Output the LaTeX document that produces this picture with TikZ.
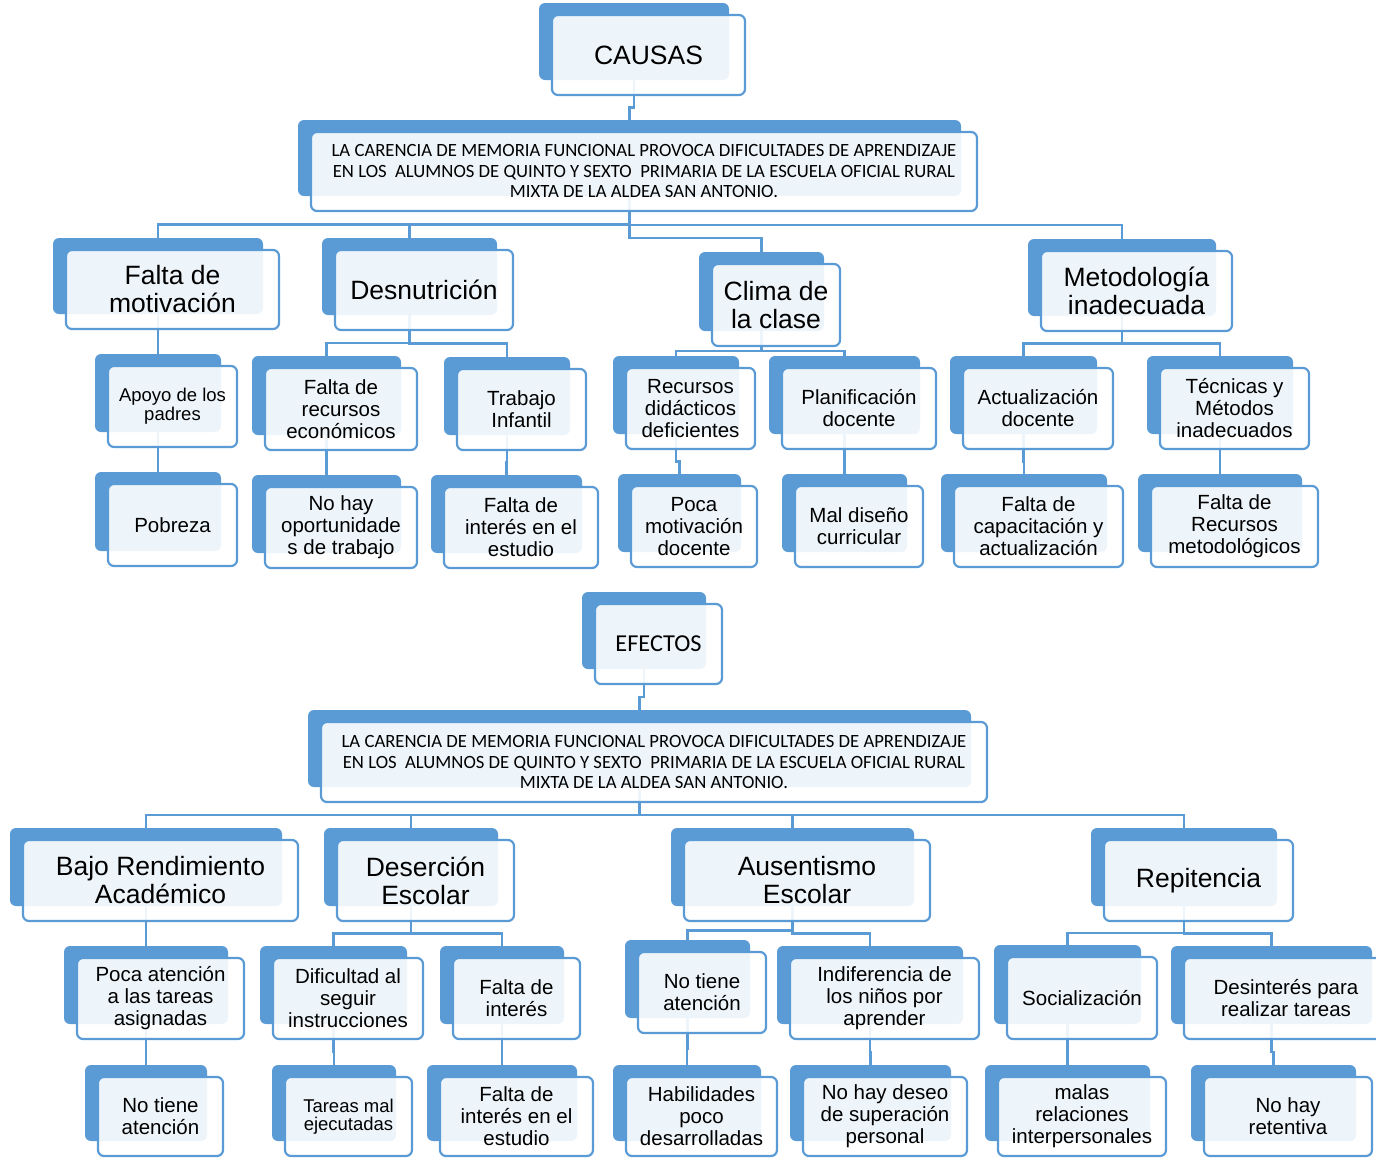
\documentclass[tikz,border=0pt]{standalone}
\usepackage{fontspec}
\setmainfont{Liberation Sans}
\newfontfamily\calib{Carlito}
\usetikzlibrary{calc}
\definecolor{sblue}{HTML}{5B9BD5}
\pgfdeclarelayer{bg}
\pgfsetlayers{bg,main}
\tikzset{
  backbox/.style={fill=sblue, draw=none, rounded corners=6pt, inner sep=0pt, outer sep=0pt},
  frontbox/.style={fill=white, fill opacity=0.9, text opacity=1, draw=sblue, line width=2.2pt,
    rounded corners=6pt, inner sep=0pt, outer sep=0pt, align=center, text=black},
  conn/.style={draw=sblue, line width=2.2pt},
  lone/.style={font=\fontsize{26.5}{28}\selectfont},
  ltwo/.style={font=\fontsize{20.5}{22}\selectfont},
  lapo/.style={font=\fontsize{18.5}{19}\selectfont},
  lsmall/.style={font=\fontsize{18.5}{18.5}\selectfont},
  lcen/.style={font=\calib\fontsize{18.7}{20.5}\selectfont},
  lefe/.style={font=\calib\fontsize{24.3}{26}\selectfont},
}
% #1 style, #2 name, #3 x1, #4 y1, #5 x2, #6 y2 (front rectangle), #7 text
\newcommand\bx[7][ltwo]{%
  \node[backbox, minimum width={#5-#3-3}, minimum height={#6-#4-3}] (#2b) at ({(#3+#5)/2-14.5},{(#4+#6)/2-13.5}) {};
  \node[frontbox, #1, minimum width={#5-#3}, minimum height={#6-#4}] (#2) at ({(#3+#5)/2},{(#4+#6)/2}) {#7};
}
\newcommand\cn[2]{%
  \draw[conn] let \p1=(#1b.south), \p2=(#1.south), \p3=(#2b.north) in
    (\p1) -- (\x1,{(\y2+\y3)/2}) -| (\p3);
}
\begin{document}
\begin{tikzpicture}[x=1pt,y=-1pt]
\useasboundingbox (0,0) rectangle (1376,1157);
\clip (0,0) rectangle (1376,1157);
% ---------------- CAUSAS ----------------
\bx[lone]{causas}{552}{15}{745}{95}{CAUSAS}
\bx[lcen]{top}{311}{132}{977}{211}{LA CARENCIA DE MEMORIA FUNCIONAL PROVOCA DIFICULTADES DE APRENDIZAJE\\EN LOS\ \ ALUMNOS DE QUINTO Y SEXTO\ \ PRIMARIA DE LA ESCUELA OFICIAL RURAL\\MIXTA DE LA ALDEA SAN ANTONIO.}
\bx[lone]{mot}{66}{250}{279}{329}{Falta de\\motivación}
\bx[lone]{des}{335}{250}{513}{330}{Desnutrición}
\bx[lone]{cli}{712}{264}{840}{346}{Clima de\\la clase}
\bx[lone]{met}{1041}{251}{1232}{331}{Metodología\\inadecuada}
\bx[lapo]{apo}{108}{366}{237}{447}{Apoyo de los\\padres}
\bx{pob}{108}{484}{237}{566}{Pobreza}
\bx{rec}{265}{368}{417}{450}{Falta de\\recursos\\económicos}
\bx{noh}{265}{487}{417}{568}{No hay\\oportunidade\\s de trabajo}
\bx{tra}{457}{369}{586}{450}{Trabajo\\Infantil}
\bx{fie}{444}{487}{598}{568}{Falta de\\interés en el\\estudio}
\bx{rdd}{626}{368}{755}{449}{Recursos\\didácticos\\deficientes}
\bx{pmd}{631}{486}{757}{567}{Poca\\motivación\\docente}
\bx{pla}{782}{368}{936}{449}{Planificación\\docente}
\bx{mal}{795}{486}{923}{567}{Mal diseño\\curricular}
\bx{act}{963}{368}{1113}{449}{Actualización\\docente}
\bx{tec}{1160}{368}{1309}{449}{Técnicas y\\Métodos\\inadecuados}
\bx{cap}{954}{486}{1123}{567}{Falta de\\capacitación y\\actualización}
\bx{frm}{1151}{486}{1318}{567}{Falta de\\Recursos\\metodológicos}
% ---------------- EFECTOS ----------------
\bx[lefe]{efe}{595}{604}{722}{684}{EFECTOS}
\bx[lcen]{toptwo}{321}{722}{987}{802}{LA CARENCIA DE MEMORIA FUNCIONAL PROVOCA DIFICULTADES DE APRENDIZAJE\\EN LOS\ \ ALUMNOS DE QUINTO Y SEXTO\ \ PRIMARIA DE LA ESCUELA OFICIAL RURAL\\MIXTA DE LA ALDEA SAN ANTONIO.}
\bx[lone]{bra}{23}{840}{298}{921}{Bajo Rendimiento\\Académico}
\bx[lone]{dse}{337}{840}{514}{921}{Deserción\\Escolar}
\bx[lone]{aus}{684}{840}{930}{921}{Ausentismo\\Escolar}
\bx[lone]{rep}{1104}{840}{1293}{921}{Repitencia}
\bx{pat}{77}{958}{244}{1039}{Poca atención\\a las tareas\\asignadas}
\bx{nta}{98}{1077}{223}{1156}{No tiene\\atención}
\bx{dif}{273}{958}{423}{1039}{Dificultad al\\seguir\\instrucciones}
\bx[lsmall]{tme}{285}{1077}{412}{1156}{Tareas mal\\ejecutadas}
\bx{fdi}{453}{958}{580}{1039}{Falta de\\interés}
\bx{fiet}{440}{1077}{593}{1156}{Falta de\\interés en el\\estudio}
\bx{ntat}{638}{952}{766}{1033}{No tiene\\atención}
\bx{ind}{790}{958}{979}{1039}{Indiferencia de\\los niños por\\aprender}
\bx{hab}{626}{1077}{777}{1156}{Habilidades\\poco\\desarrolladas}
\bx{nhd}{803}{1077}{967}{1156}{No hay deseo\\de superación\\personal}
\bx{soc}{1007}{957}{1157}{1039}{Socialización}
\bx{dpr}{1184}{958}{1388}{1039}{Desinterés para\\realizar tareas}
\bx{mrl}{998}{1077}{1166}{1156}{malas\\relaciones\\interpersonales}
\bx{nhr}{1204}{1077}{1372}{1156}{No hay\\retentiva}
% ---------------- connectors ----------------
\begin{pgfonlayer}{bg}
\cn{causas}{top}
\cn{top}{mot}\cn{top}{des}\cn{top}{met}
\draw[conn] let \p1=(topb.south), \p2=(top.south), \p3=(motb.north), \p4=(clib.north) in
  (\p1) -- (\x1,{((\y2+\y3)/2+\y4)/2}) -| (\p4);
\cn{mot}{apo}\cn{apo}{pob}
\cn{des}{rec}\cn{des}{tra}\cn{rec}{noh}\cn{tra}{fie}
\cn{cli}{rdd}\cn{cli}{pla}\cn{rdd}{pmd}\cn{pla}{mal}
\cn{met}{act}\cn{met}{tec}\cn{act}{cap}\cn{tec}{frm}
\cn{efe}{toptwo}
\cn{toptwo}{bra}\cn{toptwo}{dse}\cn{toptwo}{aus}\cn{toptwo}{rep}
\cn{bra}{pat}\cn{pat}{nta}
\cn{dse}{dif}\cn{dse}{fdi}\cn{dif}{tme}\cn{fdi}{fiet}
\cn{aus}{ntat}\cn{aus}{ind}\cn{ntat}{hab}\cn{ind}{nhd}
\cn{rep}{soc}\cn{rep}{dpr}\cn{soc}{mrl}\cn{dpr}{nhr}
\end{pgfonlayer}
\end{tikzpicture}
\end{document}
